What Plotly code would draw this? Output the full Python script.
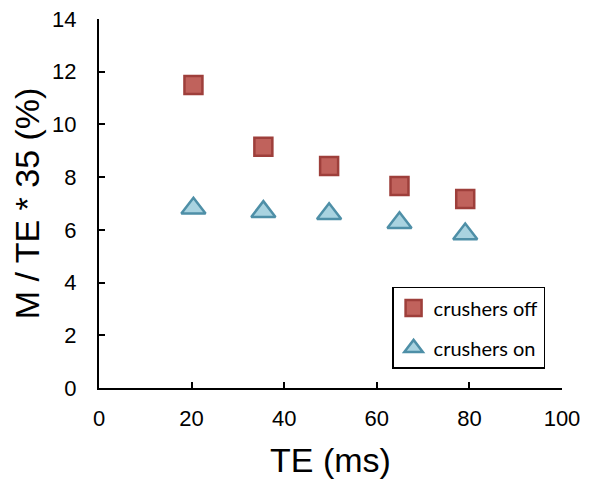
import plotly.graph_objects as go

te_off = [20.4, 35.5, 49.7, 64.9, 79.1]
vals_off = [11.5, 9.15, 8.42, 7.66, 7.17]
te_on = [20.4, 35.5, 49.7, 64.9, 79.1]
vals_on = [6.82, 6.69, 6.61, 6.27, 5.84]

x_ticks = [0, 20, 40, 60, 80, 100]
y_ticks = [0, 2, 4, 6, 8, 10, 12, 14]

fig = go.Figure()
fig.add_trace(go.Scatter(
    x=te_off, y=vals_off, mode="markers", name="crushers off", legendgroup="a",
    marker=dict(symbol="square", size=18, color="#C0625C",
                line=dict(color="#9E3F3B", width=2.5))))
fig.add_trace(go.Scatter(
    x=te_on, y=vals_on, mode="markers", name="crushers on", legendgroup="b",
    marker=dict(symbol="triangle-up", size=21, color="#A9D3E0",
                line=dict(color="#4E8FA7", width=2.5))))

fig.update_layout(
    width=591, height=480,
    margin=dict(l=99, r=29, t=19, b=92),
    plot_bgcolor="white", paper_bgcolor="white",
    showlegend=True,
    legend=dict(x=0.633, y=0.274, xanchor="left", yanchor="top",
                bordercolor="black", borderwidth=1.5, bgcolor="white",
                font=dict(family="Lato", size=20, color="black"),
                traceorder="grouped", tracegroupgap=11, itemwidth=30),
    font=dict(family="Liberation Sans, Arial", color="black"),
)
fig.update_xaxes(range=[0, 100], tickvals=x_ticks, ticks="inside", ticklen=6,
                 tickwidth=1.5, tickcolor="black", showline=True, linecolor="black",
                 linewidth=2, showgrid=False, zeroline=False, ticklabelstandoff=10,
                 automargin=False,
                 tickfont=dict(size=22), title=dict(text="TE (ms)", font=dict(size=34), standoff=18))
fig.update_yaxes(range=[0, 14], tickvals=y_ticks, ticks="inside", ticklen=6,
                 tickwidth=1.5, tickcolor="black", showline=True, linecolor="black",
                 linewidth=2, showgrid=False, zeroline=False, ticklabelstandoff=16,
                 automargin=False,
                 tickfont=dict(size=22), title=dict(text="M / TE * 35 (%)", font=dict(size=34), standoff=2))

fig.write_html("out.html")
